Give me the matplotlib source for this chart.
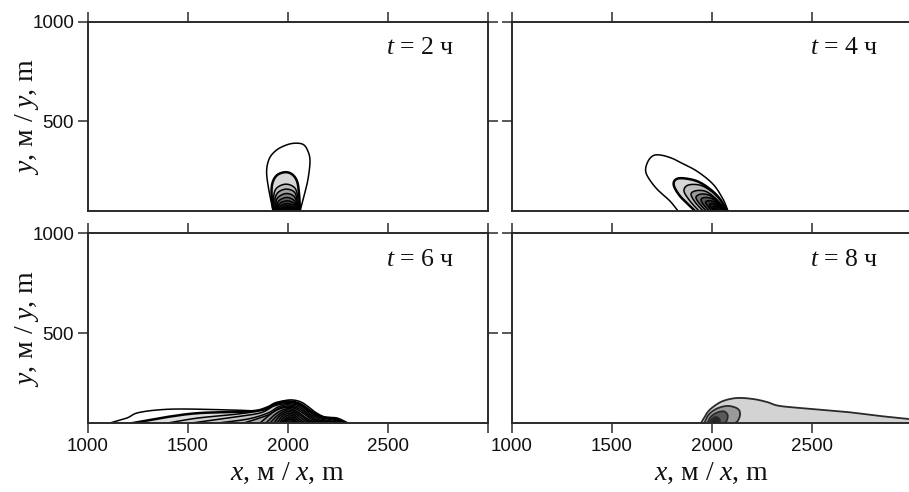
import numpy as np
import matplotlib
matplotlib.use("Agg")
import matplotlib.pyplot as plt

plt.rcParams['mathtext.fontset'] = 'custom'
plt.rcParams['mathtext.rm'] = 'Liberation Serif'
plt.rcParams['mathtext.it'] = 'Liberation Serif:italic'

# ---------------- data ----------------
x_lim = (1000, 3000)
y_lim = (50, 1000)
x_ticks = [1000, 1500, 2000, 2500, 3000]
x_ticklabels = ['1000', '1500', '2000', '2500', '']
y_ticks = [500, 1000]
y_ticklabels = ['500', '1000']
panel_titles = ['$t$ = 2 ч', '$t$ = 4 ч', '$t$ = 6 ч', '$t$ = 8 ч']
y_label = '$y$, м / $y$, m'
x_label = '$x$, м / $x$, m'

# t = 2 h : contour outlines (x, y in m), outer -> inner
t2_x = [
    [1925, 1905, 1893, 1905, 1935, 1975, 2025, 2075, 2100, 2110, 2100, 2080, 2060],
    [1928, 1918, 1922, 1945, 1985, 2020, 2045, 2055, 2060],
    [1933, 1928, 1943, 1990, 2035, 2050, 2054],
    [1938, 1935, 1952, 1992, 2032, 2046, 2050],
    [1943, 1941, 1958, 1994, 2030, 2043, 2047],
    [1948, 1947, 1963, 1996, 2027, 2039, 2043],
    [1953, 1953, 1968, 1998, 2024, 2035, 2039],
    [1958, 1959, 1974, 2000, 2021, 2031, 2035],
    [1963, 1965, 1980, 2002, 2019, 2027, 2031],
    [1968, 1971, 1985, 2003, 2017, 2024, 2027],
]
t2_y = [
    [50, 150, 245, 310, 350, 375, 390, 385, 350, 300, 210, 125, 50],
    [50, 130, 190, 230, 245, 235, 200, 140, 50],
    [50, 120, 165, 185, 165, 110, 50],
    [50, 110, 145, 160, 145, 100, 50],
    [50, 100, 125, 138, 124, 90, 50],
    [50, 88, 108, 118, 106, 82, 50],
    [50, 78, 94, 101, 92, 72, 50],
    [50, 70, 82, 87, 80, 64, 50],
    [50, 63, 72, 76, 70, 58, 50],
    [50, 58, 64, 67, 63, 55, 50],
]
t2_fill = ['white', '#d6d6d6', '#bdbdbd', '#a0a0a0', '#808080', '#606060',
           '#424242', '#2a2a2a', '#161616', '#050505']

# t = 4 h
t4_x = [
    [1830, 1790, 1725, 1680, 1668, 1683, 1710, 1750, 1800, 1840, 1925, 2005, 2055, 2080],
    [1915, 1890, 1840, 1810, 1815, 1850, 1925, 1990, 2040, 2075],
    [1935, 1890, 1860, 1880, 1940, 1995, 2040, 2072],
    [1955, 1915, 1895, 1920, 1965, 2005, 2040, 2070],
    [1970, 1935, 1920, 1945, 1985, 2020, 2048, 2068],
    [1985, 1955, 1945, 1965, 2000, 2030, 2052, 2066],
    [1998, 1975, 1968, 1985, 2012, 2038, 2055, 2064],
    [2010, 1992, 1988, 2002, 2024, 2045, 2056, 2062],
    [2022, 2008, 2006, 2018, 2035, 2050, 2058, 2060],
]
t4_y = [
    [50, 100, 160, 220, 260, 305, 330, 330, 315, 295, 250, 185, 110, 50],
    [50, 75, 125, 175, 205, 215, 200, 160, 110, 50],
    [50, 100, 150, 180, 180, 150, 105, 50],
    [50, 95, 135, 152, 150, 125, 90, 50],
    [50, 90, 120, 135, 130, 105, 75, 50],
    [50, 85, 108, 118, 112, 90, 65, 50],
    [50, 80, 95, 102, 96, 78, 60, 50],
    [50, 72, 83, 88, 82, 68, 56, 50],
    [50, 64, 72, 75, 70, 60, 53, 50],
]
t4_fill = ['white', '#d6d6d6', '#bdbdbd', '#9a9a9a', '#777777', '#555555',
           '#383838', '#1e1e1e', '#080808']

# t = 6 h
t6_x = [
    [1110, 1195, 1245, 1345, 1475, 1725, 1860, 1925, 1975, 2025, 2075, 2135, 2185, 2245, 2300],
    [1225, 1395, 1560, 1810, 1890, 1940, 2000, 2060, 2120, 2170, 2230, 2285],
    [1400, 1550, 1750, 1880, 1940, 2000, 2060, 2115, 2165, 2220, 2275],
    [1520, 1700, 1860, 1930, 2000, 2065, 2110, 2160, 2210, 2265],
    [1650, 1800, 1900, 1950, 2000, 2060, 2105, 2150, 2200, 2255],
    [1780, 1900, 1950, 2000, 2055, 2100, 2140, 2190, 2245],
    [1860, 1935, 2000, 2050, 2095, 2135, 2180, 2230],
    [1890, 1945, 2000, 2045, 2085, 2125, 2170, 2210],
    [1910, 1955, 2000, 2040, 2080, 2115, 2150],
    [1930, 1962, 2000, 2036, 2072, 2110],
    [1945, 1970, 2000, 2032, 2060, 2090],
    [1958, 1977, 2002, 2028, 2050, 2072],
    [1968, 1984, 2004, 2024, 2040, 2055],
    [1978, 1990, 2005, 2020, 2032, 2040],
]
t6_y = [
    [50, 75, 100, 115, 120, 115, 112, 140, 160, 165, 150, 105, 80, 75, 50],
    [50, 80, 100, 108, 125, 150, 158, 146, 105, 80, 72, 50],
    [50, 75, 95, 115, 142, 153, 140, 100, 76, 67, 50],
    [50, 75, 100, 135, 147, 133, 96, 71, 62, 50],
    [50, 70, 100, 130, 141, 127, 92, 67, 58, 50],
    [50, 90, 122, 135, 121, 88, 64, 56, 50],
    [50, 110, 129, 115, 84, 61, 54, 50],
    [50, 100, 122, 108, 79, 58, 52, 50],
    [50, 94, 115, 103, 75, 55, 50],
    [50, 88, 107, 97, 70, 50],
    [50, 82, 99, 90, 66, 50],
    [50, 75, 90, 83, 62, 50],
    [50, 68, 80, 75, 58, 50],
    [50, 62, 70, 66, 55, 50],
]
t6_fill = ['white', '#dedede', '#d2d2d2', '#c6c6c6', '#b8b8b8', '#a8a8a8',
           '#989898', '#888888', '#787878', '#686868', '#555555', '#404040',
           '#2a2a2a', '#151515']

# t = 8 h
t8_x = [
    [1945, 1975, 2005, 2055, 2125, 2205, 2275, 2340, 2505, 2675, 2840, 2985, 3060],
    [1962, 1982, 2020, 2070, 2110, 2135, 2140, 2130, 2115],
    [1978, 1993, 2025, 2060, 2078, 2075, 2065],
    [1988, 1998, 2018, 2035, 2040, 2035],
    [1995, 2003, 2015, 2022, 2022],
]
t8_y = [
    [50, 100, 130, 160, 175, 170, 155, 135, 120, 105, 85, 70, 60],
    [50, 90, 120, 135, 130, 115, 90, 62, 50],
    [50, 80, 102, 108, 90, 65, 50],
    [50, 68, 80, 72, 58, 50],
    [50, 58, 63, 57, 50],
]
t8_fill = ['#d3d3d3', '#9a9a9a', '#5a5a5a', '#262626', '#000000']

panels = [(t2_x, t2_y, t2_fill), (t4_x, t4_y, t4_fill),
          (t6_x, t6_y, t6_fill), (t8_x, t8_y, t8_fill)]


def smooth(xs, ys, n=24):
    p = np.column_stack([xs, ys]).astype(float)
    p = np.vstack([p[0], p, p[-1]])
    out = []
    t = np.linspace(0, 1, n, endpoint=False)[:, None]
    for i in range(1, len(p) - 2):
        p0, p1, p2, p3 = p[i - 1], p[i], p[i + 1], p[i + 2]
        seg = 0.5 * ((2 * p1) + (-p0 + p2) * t + (2 * p0 - 5 * p1 + 4 * p2 - p3) * t ** 2
                     + (-p0 + 3 * p1 - 3 * p2 + p3) * t ** 3)
        out.append(seg)
    out.append(p[-2][None])
    return np.vstack(out)


W, H = 909, 492
fig = plt.figure(figsize=(W / 100, H / 100), dpi=100)
fig.patch.set_facecolor('white')

ax_px = [  # left, top, right, bottom in pixels
    (88, 22, 488, 211), (512, 22, 912, 211),
    (88, 233, 488, 423), (512, 233, 912, 423),
]
spine_col = '#2a2a2a'
for k, (l, t, r, b) in enumerate(ax_px):
    ax = fig.add_axes([l / W, 1 - b / H, (r - l) / W, (b - t) / H])
    xs_list, ys_list, fills = panels[k]
    for j, (cx, cy) in enumerate(zip(xs_list, ys_list)):
        pts = smooth(cx, cy)
        if k == 3:
            ec = '#2a2a2a'
            lw = 1.3
        else:
            ec = 'black'
            lw = 1.8 if j == 1 else 1.1
        # closed area down below the lower axis limit
        px = np.concatenate([pts[:, 0], [pts[-1, 0], pts[0, 0]]])
        py = np.concatenate([pts[:, 1], [0, 0]])
        ax.fill(px, py, facecolor=fills[j], edgecolor='none', zorder=1 + j * 0.01)
        ax.plot(pts[:, 0], pts[:, 1], color=ec, linewidth=lw, zorder=1.005 + j * 0.01,
                solid_joinstyle='round')
    ax.set_xlim(*x_lim)
    ax.set_ylim(*y_lim)
    ax.set_xticks(x_ticks)
    ax.set_yticks(y_ticks)
    ax.set_xticklabels(x_ticklabels)
    ax.set_yticklabels(y_ticklabels)
    for s in ax.spines.values():
        s.set_color(spine_col)
        s.set_linewidth(1.4)
        s.set_zorder(5)
    top_row = k < 2
    left_col = k % 2 == 0
    ax.tick_params(axis='both', direction='out', length=7, width=1.1, color=spine_col,
                   labelsize=13.5, pad=3)
    ax.tick_params(axis='x', top=True, bottom=not top_row, labelbottom=not top_row,
                   labeltop=False, pad=4)
    ax.tick_params(axis='y', left=True, right=True, labelleft=left_col, labelright=False)
    for lab in ax.get_xticklabels() + ax.get_yticklabels():
        lab.set_fontfamily('Liberation Sans')
        lab.set_color('#111111')
    ax.text(0.915, 0.86, panel_titles[k], transform=ax.transAxes, ha='right', va='center',
            fontsize=18.5, fontfamily='Liberation Serif', color='#111111')

# axis labels
for (l, t, r, b) in ax_px[0::2]:
    fig.text(27 / W, 1 - (t + b) / 2 / H, y_label, rotation=90, ha='center', va='center',
             fontsize=20, fontfamily='Liberation Serif', color='#111111')
for (l, t, r, b) in ax_px[2:]:
    fig.text((l + 200) / W, 1 - 473 / H, x_label, ha='center', va='center',
             fontsize=20, fontfamily='Liberation Serif', color='#111111')

fig.savefig('out.png', dpi=100)
